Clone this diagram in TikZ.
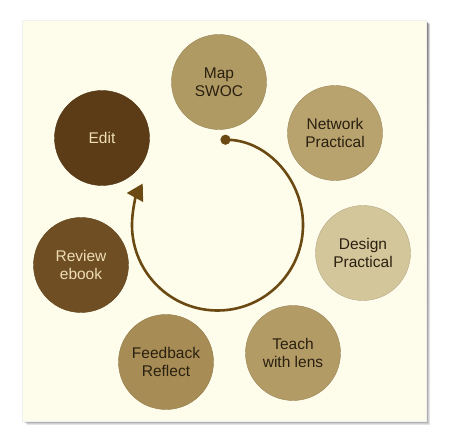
\documentclass[tikz,border=0pt]{standalone}
\usepackage{fontspec}
\setmainfont{Liberation Sans}
\usepackage{tikz}
\usetikzlibrary{arrows.meta,positioning}
\definecolor{paper}{HTML}{FEFCEA}
\definecolor{shade}{HTML}{A8A8A2}
\definecolor{mapc}{HTML}{B09A64}
\definecolor{netc}{HTML}{B8A26E}
\definecolor{desc}{HTML}{D4C69B}
\definecolor{teachc}{HTML}{B39B66}
\definecolor{feedc}{HTML}{A88C55}
\definecolor{revc}{HTML}{6E4E22}
\definecolor{editc}{HTML}{5C3C16}
\definecolor{cycle}{HTML}{6A4A12}
\definecolor{darktext}{HTML}{2A2010}
\definecolor{lighttext}{HTML}{EEDDB5}
\tikzset{
  stage/.style = {circle, minimum size=95pt, inner sep=0pt, align=center,
    font=\fontsize{15.5}{18}\selectfont, text=darktext},
  darkstage/.style = {stage, text=lighttext},
  loop/.style = {line width=2.6pt, draw=cycle,
    {Circle[length=10pt,fill=cycle]}-{Triangle[length=16pt,width=18pt,fill=cycle]}}
}
\begin{document}
\begin{tikzpicture}[x=1pt, y=1pt]
\useasboundingbox (0,0) rectangle (450,442);

% soft shadow behind the panel
\foreach \s in {1,...,5}
  \fill[shade, opacity=0.12] (22.5+\s*0.8,21-\s*0.8) rectangle (426+\s*0.8,422-\s*0.8);
\fill[paper, draw=gray!12, line width=0.6pt] (22.5,21) rectangle (426,422);

\node[stage, fill=mapc, draw=mapc!85!black] (map) at (219,360) {Map\\SWOC};
\node[stage, fill=netc, draw=netc!85!black] (net) at (335,309) {Network\\Practical};
\node[stage, fill=desc, draw=desc!85!black] (design) at (363,189) {Design\\Practical};
\node[stage, fill=teachc, draw=teachc!85!black] (teach) at (293,89) {Teach\\with lens};
\node[stage, fill=feedc, draw=feedc!85!black] (feed) at (166,80) {Feedback\\Reflect};
\node[darkstage, fill=revc, draw=revc!85!black] (review) at (81,177) {Review\\ebook};
\node[darkstage, fill=editc, draw=editc!85!black] (edit) at (102,304) {Edit};

\coordinate (hub) at (217.5,217);
\draw[loop] ([shift={(88:85.5)}]hub) arc[start angle=88, end angle=-209, radius=85.5];

\end{tikzpicture}
\end{document}
